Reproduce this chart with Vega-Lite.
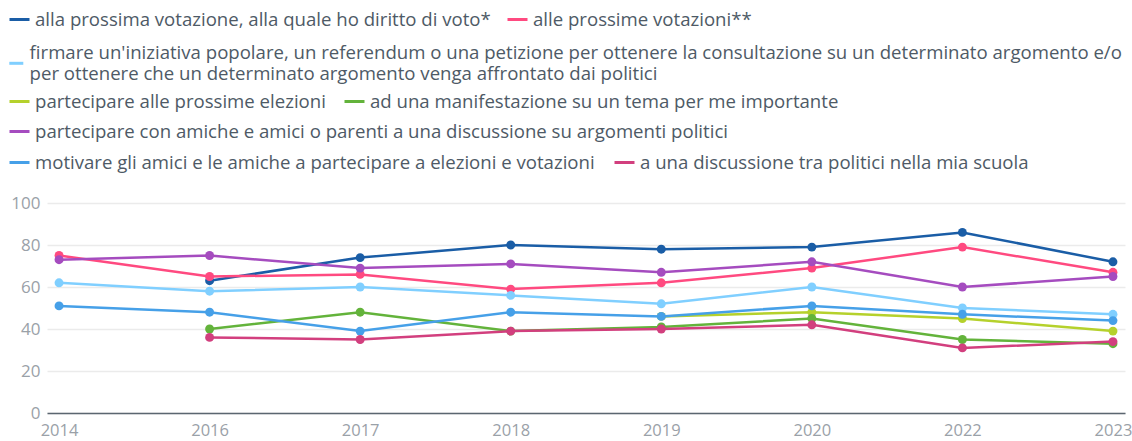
{
 "$schema": "https://vega.github.io/schema/vega-lite/v6.json",
 "width": 1078,
 "height": 210,
 "autosize": {"type": "none"},
 "padding": {"left": 47, "top": 203, "right": 7, "bottom": 28},
 "background": "white",
 "data": {"values": [
  {"anno": "2016", "serie": "alla prossima votazione, alla quale ho diritto di voto*", "valore": 63},
  {"anno": "2017", "serie": "alla prossima votazione, alla quale ho diritto di voto*", "valore": 74},
  {"anno": "2018", "serie": "alla prossima votazione, alla quale ho diritto di voto*", "valore": 80},
  {"anno": "2019", "serie": "alla prossima votazione, alla quale ho diritto di voto*", "valore": 78},
  {"anno": "2020", "serie": "alla prossima votazione, alla quale ho diritto di voto*", "valore": 79},
  {"anno": "2022", "serie": "alla prossima votazione, alla quale ho diritto di voto*", "valore": 86},
  {"anno": "2023", "serie": "alla prossima votazione, alla quale ho diritto di voto*", "valore": 72},
  {"anno": "2014", "serie": "alle prossime votazioni**", "valore": 75},
  {"anno": "2016", "serie": "alle prossime votazioni**", "valore": 65},
  {"anno": "2017", "serie": "alle prossime votazioni**", "valore": 66},
  {"anno": "2018", "serie": "alle prossime votazioni**", "valore": 59},
  {"anno": "2019", "serie": "alle prossime votazioni**", "valore": 62},
  {"anno": "2020", "serie": "alle prossime votazioni**", "valore": 69},
  {"anno": "2022", "serie": "alle prossime votazioni**", "valore": 79},
  {"anno": "2023", "serie": "alle prossime votazioni**", "valore": 67},
  {"anno": "2014", "serie": "firmare un'iniziativa popolare, un referendum o una petizione per ottenere la consultazione su un determinato argomento e/o per ottenere che un determinato argomento venga affrontato dai politici", "valore": 62},
  {"anno": "2016", "serie": "firmare un'iniziativa popolare, un referendum o una petizione per ottenere la consultazione su un determinato argomento e/o per ottenere che un determinato argomento venga affrontato dai politici", "valore": 58},
  {"anno": "2017", "serie": "firmare un'iniziativa popolare, un referendum o una petizione per ottenere la consultazione su un determinato argomento e/o per ottenere che un determinato argomento venga affrontato dai politici", "valore": 60},
  {"anno": "2018", "serie": "firmare un'iniziativa popolare, un referendum o una petizione per ottenere la consultazione su un determinato argomento e/o per ottenere che un determinato argomento venga affrontato dai politici", "valore": 56},
  {"anno": "2019", "serie": "firmare un'iniziativa popolare, un referendum o una petizione per ottenere la consultazione su un determinato argomento e/o per ottenere che un determinato argomento venga affrontato dai politici", "valore": 52},
  {"anno": "2020", "serie": "firmare un'iniziativa popolare, un referendum o una petizione per ottenere la consultazione su un determinato argomento e/o per ottenere che un determinato argomento venga affrontato dai politici", "valore": 60},
  {"anno": "2022", "serie": "firmare un'iniziativa popolare, un referendum o una petizione per ottenere la consultazione su un determinato argomento e/o per ottenere che un determinato argomento venga affrontato dai politici", "valore": 50},
  {"anno": "2023", "serie": "firmare un'iniziativa popolare, un referendum o una petizione per ottenere la consultazione su un determinato argomento e/o per ottenere che un determinato argomento venga affrontato dai politici", "valore": 47},
  {"anno": "2019", "serie": "partecipare alle prossime elezioni", "valore": 46},
  {"anno": "2020", "serie": "partecipare alle prossime elezioni", "valore": 48},
  {"anno": "2022", "serie": "partecipare alle prossime elezioni", "valore": 45},
  {"anno": "2023", "serie": "partecipare alle prossime elezioni", "valore": 39},
  {"anno": "2016", "serie": "ad una manifestazione su un tema per me importante", "valore": 40},
  {"anno": "2017", "serie": "ad una manifestazione su un tema per me importante", "valore": 48},
  {"anno": "2018", "serie": "ad una manifestazione su un tema per me importante", "valore": 39},
  {"anno": "2019", "serie": "ad una manifestazione su un tema per me importante", "valore": 41},
  {"anno": "2020", "serie": "ad una manifestazione su un tema per me importante", "valore": 45},
  {"anno": "2022", "serie": "ad una manifestazione su un tema per me importante", "valore": 35},
  {"anno": "2023", "serie": "ad una manifestazione su un tema per me importante", "valore": 33},
  {"anno": "2014", "serie": "partecipare con amiche e amici o parenti a una discussione su argomenti politici", "valore": 73},
  {"anno": "2016", "serie": "partecipare con amiche e amici o parenti a una discussione su argomenti politici", "valore": 75},
  {"anno": "2017", "serie": "partecipare con amiche e amici o parenti a una discussione su argomenti politici", "valore": 69},
  {"anno": "2018", "serie": "partecipare con amiche e amici o parenti a una discussione su argomenti politici", "valore": 71},
  {"anno": "2019", "serie": "partecipare con amiche e amici o parenti a una discussione su argomenti politici", "valore": 67},
  {"anno": "2020", "serie": "partecipare con amiche e amici o parenti a una discussione su argomenti politici", "valore": 72},
  {"anno": "2022", "serie": "partecipare con amiche e amici o parenti a una discussione su argomenti politici", "valore": 60},
  {"anno": "2023", "serie": "partecipare con amiche e amici o parenti a una discussione su argomenti politici", "valore": 65},
  {"anno": "2014", "serie": "motivare gli amici e le amiche a partecipare a elezioni e votazioni", "valore": 51},
  {"anno": "2016", "serie": "motivare gli amici e le amiche a partecipare a elezioni e votazioni", "valore": 48},
  {"anno": "2017", "serie": "motivare gli amici e le amiche a partecipare a elezioni e votazioni", "valore": 39},
  {"anno": "2018", "serie": "motivare gli amici e le amiche a partecipare a elezioni e votazioni", "valore": 48},
  {"anno": "2019", "serie": "motivare gli amici e le amiche a partecipare a elezioni e votazioni", "valore": 46},
  {"anno": "2020", "serie": "motivare gli amici e le amiche a partecipare a elezioni e votazioni", "valore": 51},
  {"anno": "2022", "serie": "motivare gli amici e le amiche a partecipare a elezioni e votazioni", "valore": 47},
  {"anno": "2023", "serie": "motivare gli amici e le amiche a partecipare a elezioni e votazioni", "valore": 44},
  {"anno": "2016", "serie": "a una discussione tra politici nella mia scuola", "valore": 36},
  {"anno": "2017", "serie": "a una discussione tra politici nella mia scuola", "valore": 35},
  {"anno": "2018", "serie": "a una discussione tra politici nella mia scuola", "valore": 39},
  {"anno": "2019", "serie": "a una discussione tra politici nella mia scuola", "valore": 40},
  {"anno": "2020", "serie": "a una discussione tra politici nella mia scuola", "valore": 42},
  {"anno": "2022", "serie": "a una discussione tra politici nella mia scuola", "valore": 31},
  {"anno": "2023", "serie": "a una discussione tra politici nella mia scuola", "valore": 34}
 ]},
 "encoding": {
  "x": {"field": "anno", "type": "ordinal",
        "scale": {"type": "point", "padding": 0.08, "domain": ["2014", "2016", "2017", "2018", "2019", "2020", "2022", "2023"]},
        "axis": {"title": null, "labelAngle": 0, "ticks": false, "grid": false, "domain": true, "domainColor": "#5b6670", "domainWidth": 1.5, "labelPadding": 9, "labelFontSize": 16.5, "labelColor": "#9aa1a8"}},
  "y": {"field": "valore", "type": "quantitative",
        "scale": {"domain": [0, 100], "nice": false},
        "axis": {"title": null, "values": [0, 20, 40, 60, 80, 100], "ticks": false, "domain": false, "grid": true, "gridColor": "#ebebeb", "gridWidth": 1.5, "labelPadding": 7, "labelFontSize": 17, "labelColor": "#9aa1a8"}}
 },
 "layer": [
  {"transform": [{"filter": {"field": "serie", "equal": "alla prossima votazione, alla quale ho diritto di voto*"}}],
   "mark": {"type": "line", "strokeWidth": 2.5, "point": {"filled": true, "size": 80}},
   "encoding": {"color": {"field": "serie", "type": "nominal", "scale": {"domain": ["alla prossima votazione, alla quale ho diritto di voto*"], "range": ["#1a5da6"]}, "legend": {"orient": "none", "legendX": -39, "legendY": -195}}}},
  {"transform": [{"filter": {"field": "serie", "equal": "alle prossime votazioni**"}}],
   "mark": {"type": "line", "strokeWidth": 2.5, "point": {"filled": true, "size": 80}},
   "encoding": {"color": {"field": "serie", "type": "nominal", "scale": {"domain": ["alle prossime votazioni**"], "range": ["#ff4a80"]}, "legend": {"orient": "none", "legendX": 459, "legendY": -195}}}},
  {"transform": [{"filter": {"field": "serie", "equal": "firmare un'iniziativa popolare, un referendum o una petizione per ottenere la consultazione su un determinato argomento e/o per ottenere che un determinato argomento venga affrontato dai politici"}}],
   "mark": {"type": "line", "strokeWidth": 2.5, "point": {"filled": true, "size": 80}},
   "encoding": {"color": {"field": "serie", "type": "nominal", "scale": {"domain": ["firmare un'iniziativa popolare, un referendum o una petizione per ottenere la consultazione su un determinato argomento e/o per ottenere che un determinato argomento venga affrontato dai politici"], "range": ["#80cfff"]}, "legend": {"orient": "none", "legendX": -40, "legendY": -149, "symbolSize": 196, "labelOffset": 4, "labelExpr": "[substring(datum.label, 0, indexof(datum.label, 'e/o') + 3), substring(datum.label, indexof(datum.label, 'e/o') + 4)]", "encode": {"labels": {"update": {"lineHeight": {"value": 21}, "dy": {"value": -10.5}}}}}}}},
  {"transform": [{"filter": {"field": "serie", "equal": "partecipare alle prossime elezioni"}}],
   "mark": {"type": "line", "strokeWidth": 2.5, "point": {"filled": true, "size": 80}},
   "encoding": {"color": {"field": "serie", "type": "nominal", "scale": {"domain": ["partecipare alle prossime elezioni"], "range": ["#b5d12c"]}, "legend": {"orient": "none", "legendX": -39, "legendY": -113}}}},
  {"transform": [{"filter": {"field": "serie", "equal": "ad una manifestazione su un tema per me importante"}}],
   "mark": {"type": "line", "strokeWidth": 2.5, "point": {"filled": true, "size": 80}},
   "encoding": {"color": {"field": "serie", "type": "nominal", "scale": {"domain": ["ad una manifestazione su un tema per me importante"], "range": ["#63b33b"]}, "legend": {"orient": "none", "legendX": 296, "legendY": -113}}}},
  {"transform": [{"filter": {"field": "serie", "equal": "partecipare con amiche e amici o parenti a una discussione su argomenti politici"}}],
   "mark": {"type": "line", "strokeWidth": 2.5, "point": {"filled": true, "size": 80}},
   "encoding": {"color": {"field": "serie", "type": "nominal", "scale": {"domain": ["partecipare con amiche e amici o parenti a una discussione su argomenti politici"], "range": ["#a54cbf"]}, "legend": {"orient": "none", "legendX": -39, "legendY": -83}}}},
  {"transform": [{"filter": {"field": "serie", "equal": "motivare gli amici e le amiche a partecipare a elezioni e votazioni"}}],
   "mark": {"type": "line", "strokeWidth": 2.5, "point": {"filled": true, "size": 80}},
   "encoding": {"color": {"field": "serie", "type": "nominal", "scale": {"domain": ["motivare gli amici e le amiche a partecipare a elezioni e votazioni"], "range": ["#46a0e8"]}, "legend": {"orient": "none", "legendX": -39, "legendY": -52}}}},
  {"transform": [{"filter": {"field": "serie", "equal": "a una discussione tra politici nella mia scuola"}}],
   "mark": {"type": "line", "strokeWidth": 2.5, "point": {"filled": true, "size": 80}},
   "encoding": {"color": {"field": "serie", "type": "nominal", "scale": {"domain": ["a una discussione tra politici nella mia scuola"], "range": ["#d23f7e"]}, "legend": {"orient": "none", "legendX": 566, "legendY": -52}}}}
 ],
 "resolve": {"scale": {"color": "independent"}, "legend": {"color": "independent"}},
 "config": {
  "font": "Open Sans",
  "view": {"stroke": null},
  "axis": {"labelFont": "Open Sans"},
  "legend": {"title": null, "symbolType": "stroke", "symbolSize": 400, "symbolStrokeWidth": 3, "labelFont": "Open Sans", "labelFontSize": 18.6, "labelColor": "#4e5a66", "labelLimit": 2000, "labelOffset": 4, "padding": 0}
 }
}
